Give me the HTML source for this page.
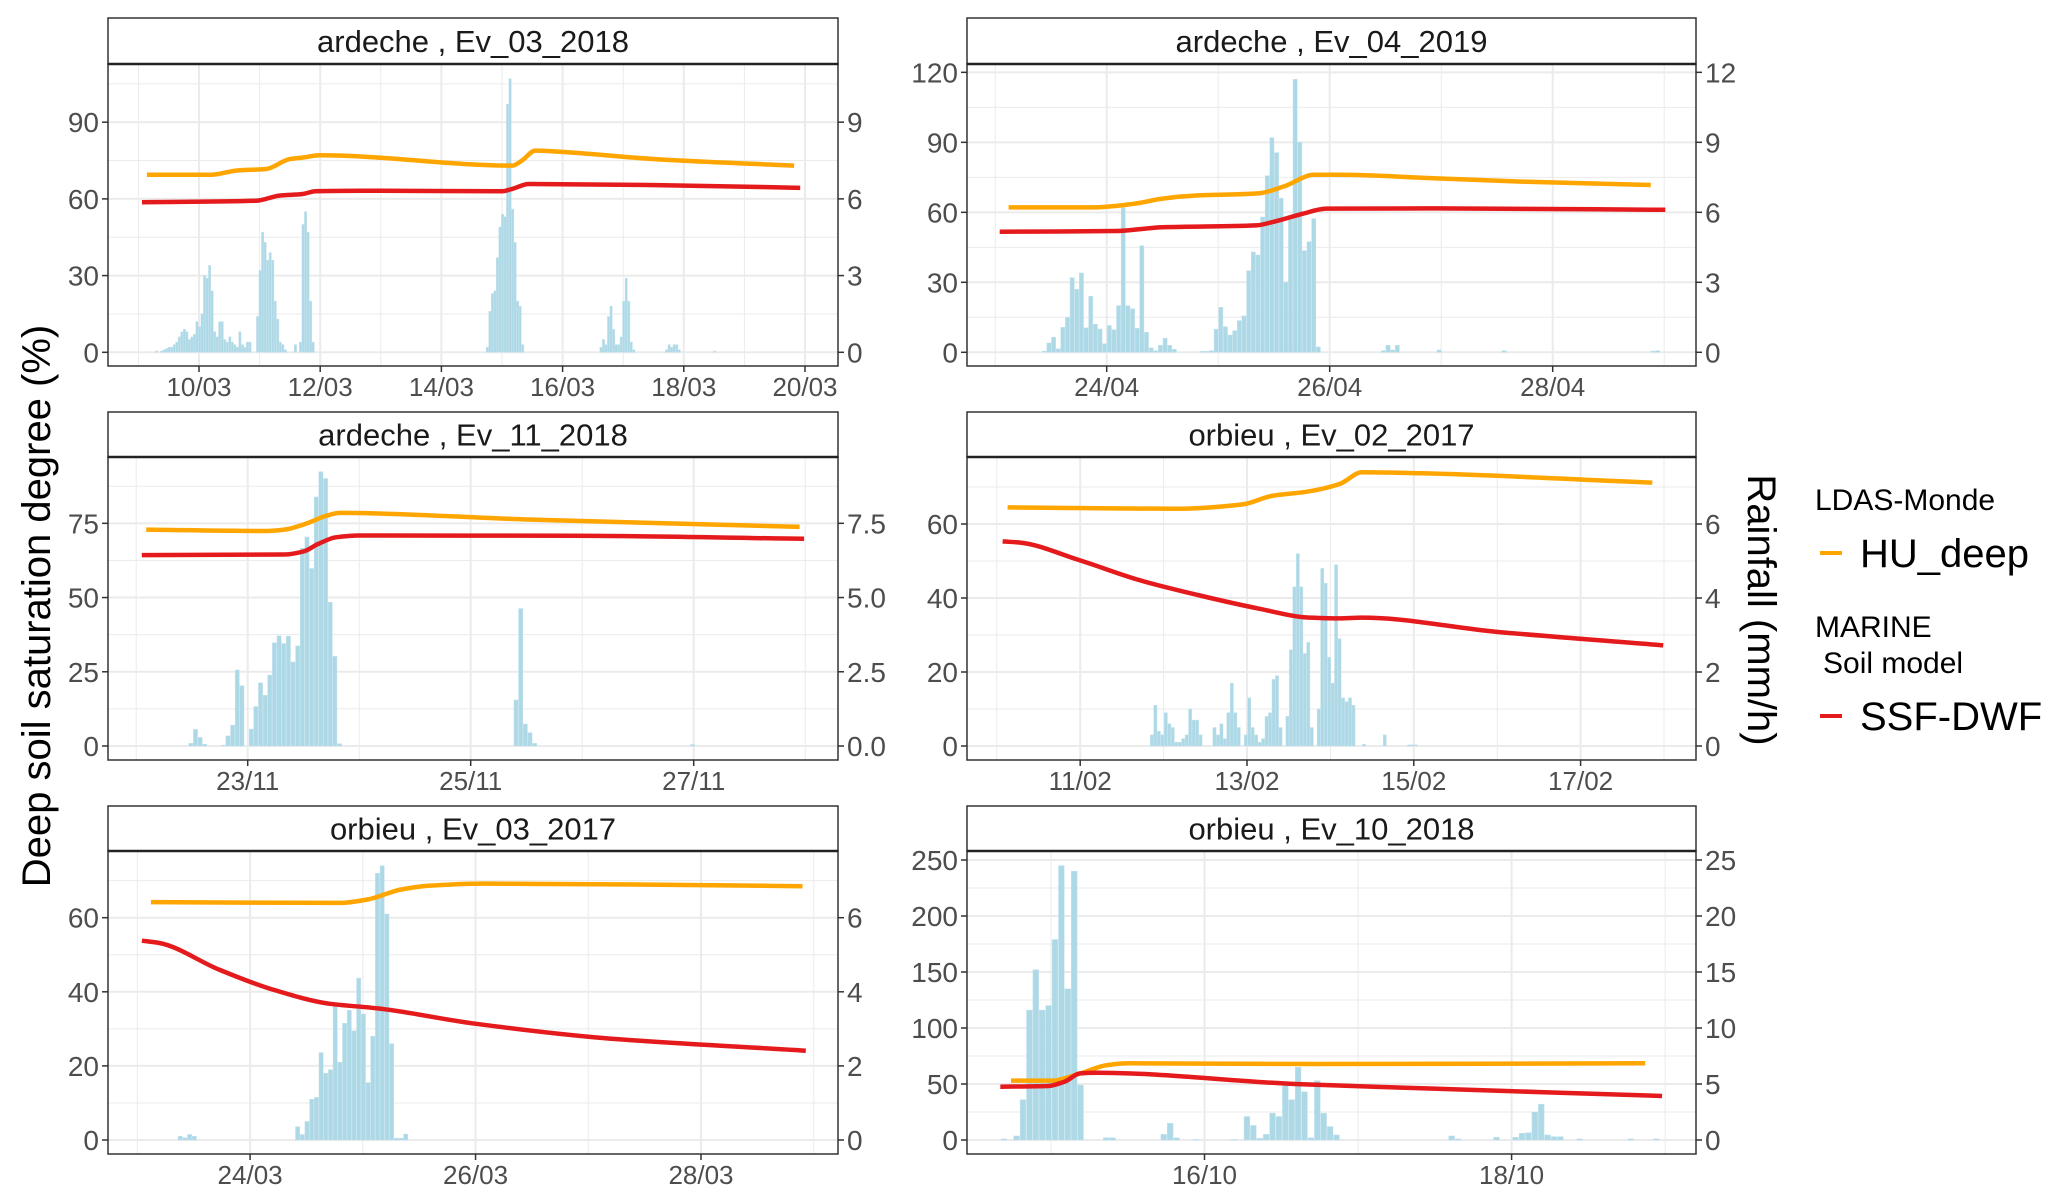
<!DOCTYPE html>
<html><head><meta charset="utf-8"><style>
body{margin:0;background:#fff;}
svg{display:block;font-family:"Liberation Sans",Arial,sans-serif;}
</style></head><body>
<svg id="chart" width="2067" height="1201" viewBox="0 0 2067 1201" xmlns="http://www.w3.org/2000/svg">
<text x="0" y="0" transform="translate(50,606) rotate(-90)" text-anchor="middle" font-size="40" fill="#000">Deep soil saturation degree (%)</text>
<text x="0" y="0" transform="translate(1748,610) rotate(90)" text-anchor="middle" font-size="40" fill="#000">Rainfall (mm/h)</text>
<g>
<text x="1815" y="510" font-size="30" fill="#000">LDAS-Monde</text>
<line x1="1820" y1="553" x2="1842" y2="553" stroke="#FFA500" stroke-width="4"/>
<text x="1860" y="567" font-size="40" fill="#000">HU_deep</text>
<text x="1815" y="637" font-size="30" fill="#000">MARINE</text>
<text x="1823" y="673" font-size="30" fill="#000">Soil model</text>
<line x1="1820" y1="716" x2="1842" y2="716" stroke="#E41A1C" stroke-width="4"/>
<text x="1860" y="730" font-size="40" fill="#000">SSF-DWF</text>
</g>
</svg>
<script>
// ---- Panel 1: ardeche Ev_03_2018 ----
const p1Title = "ardeche , Ev_03_2018";
const p1XTicks = [10,12,14,16,18,20];
const p1XLabels = ["10/03","12/03","14/03","16/03","18/03","20/03"];
const p1YTicks = [0,30,60,90];
const p1Y2Labels = ["0","3","6","9"];
const p1HuT = [9.14,10.19,10.63,11.11,11.49,11.76,11.98,15.17,15.33,15.55,15.92,17.55,19.82];
const p1HuV = [69.4,69.4,71.1,71.7,75.5,76.3,77.1,73.0,75.0,78.9,78.5,75.5,73.0];
const p1SsfT = [9.06,10.95,11.33,11.71,11.92,12.68,15.0,15.17,15.44,17.55,19.92];
const p1SsfV = [58.7,59.3,61.3,61.9,63.0,63.2,63.0,63.9,65.8,65.4,64.3];
const p1RainStart = 9.3;
const p1Rain = [0.05,0,0.05,0.1,0.15,0.2,0.2,0.3,0.4,0.6,0.8,0.9,0.8,0.5,0.6,0.7,1.2,1.0,1.5,3.0,2.9,3.4,2.4,0.8,0.6,1.2,1.2,0.5,0.4,0.6,0.4,0.3,0.2,0.8,0.3,0.2,0.4,0.4,0,0,
1.4,3.2,4.7,4.3,3.6,3.9,3.6,2.0,1.3,0.4,0.3,0.1,0,0,0,0.3,0,0.4,5.0,5.5,4.7,2.0,0.4,
0,0,0,0,0,0,0,0,0,0,0,0,0,0,0,0,0,0,0,0,0,0,0,0,0,0,0,0,0,0,0,0,0,0,0,0,0,0,0,0,0,0,0,0,0,0,0,0,0,0,0,0,0,0,0,0,0,0,0,0,0,0,0,0,0,0,0,0,
0.2,1.6,2.3,2.4,3.7,4.9,5.4,5.3,9.7,10.7,5.6,4.3,2.0,1.8,0.3,
0,0,0,0,0,0,0,0,0,0,0,0,0,0,0,0,0,0,0,0,0,0,0,0,0,0,0,0,0,0,
0.2,0.5,0.3,1.4,1.8,0.9,0.3,0.3,0.6,2.0,2.9,2.0,0.4,0.1,
0,0,0,0,0,0,0,0,0,0,0,0,0.1,0.3,0.2,0.3,0.3,0.1,0,0,0,0,0,0,0,0,0,0,0,0,0,0.05];

// ---- Panel 2: ardeche Ev_04_2019 ----
const p2Title = "ardeche , Ev_04_2019";
const p2XTicks = [24,26,28];
const p2XLabels = ["24/04","26/04","28/04"];
const p2YTicks = [0,30,60,90,120];
const p2Y2Labels = ["0","3","6","9","12"];
const p2HuT = [23.12,23.87,24.25,24.5,24.84,25.36,25.59,25.86,26.09,26.93,27.77,28.88];
const p2HuV = [62.1,62.1,63.7,65.9,67.3,68.1,71.1,76.1,76.1,74.6,73.1,71.7];
const p2SsfT = [23.04,24.08,24.5,25.34,25.51,25.76,25.97,26.93,29.01];
const p2SsfV = [51.7,52.0,53.6,54.4,56.1,59.4,61.6,61.7,61.1];
const p2RainStart = 23.44;
const p2Rain = [0.05,0.4,0.65,0.15,1.07,1.5,3.2,2.7,3.4,1.05,2.4,1.2,1.0,0.37,1.15,0.97,2.0,6.2,2.0,1.87,1.03,4.57,0.86,0.19,0.07,0.3,0.6,0.3,0.13,0,0,0,0,0,0.04,0.04,0.07,0.99,1.93,1.1,0.74,0.93,1.36,1.56,3.5,4.3,4.17,5.8,7.57,9.2,8.56,6.6,3.0,5.7,11.7,9.0,4.36,4.74,5.73,0.23,
0,0,0,0,0,0,0,0,0,0,0,0,0,0.07,0.3,0.1,0.3,0,0,0,0,0,0,0,0,0.1,0,0,0,0,0,0,0,0,0,0,0,0,0,0.07,0,0,0,0,0,0,0,0,0,0,0,0,0,0,0,0,0,0,0,0,0,0,0,0,0,0,0,0,0,0,0,0.05,0.07];

// ---- Panel 3: ardeche Ev_11_2018 ----
const p3Title = "ardeche , Ev_11_2018";
const p3XTicks = [23,25,27];
const p3XLabels = ["23/11","25/11","27/11"];
const p3YTicks = [0,25,50,75];
const p3Y2Labels = ["0.0","2.5","5.0","7.5"];
const p3HuT = [22.09,23.17,23.33,23.54,23.71,23.83,25.51,27.95];
const p3HuV = [72.9,72.4,72.9,75.1,77.6,78.5,76.3,73.8];
const p3SsfT = [22.05,23.33,23.5,23.63,23.79,24.0,25.92,27.99];
const p3SsfV = [64.3,64.5,65.5,68.0,70.3,70.9,70.8,69.8];
const p3RainStart = 22.49;
const p3Rain = [0.09,0.56,0.29,0.06,0,0,0,0.03,0.34,0.70,2.56,2.03,0,0.57,1.33,2.13,1.71,2.39,3.48,3.71,3.45,3.7,2.83,3.37,6.66,7.04,5.98,8.39,9.24,9.01,4.84,3.02,0.08,
0,0,0,0,0,0,0,0,0,0,0,0,0,0,0,0,0,0,0,0,0,0,0,0,0,0,0,0,0,0,0,0,0,0,0,0,0,
1.55,4.63,0.74,0.45,0.09,0,0,0,0,0,0,0,0,0,0,0,0,0,0,0,0,0,0,0,0,0,0,0,0,0,0,0,0,0,0,0,0,0,0.05];

// ---- Panel 4: orbieu Ev_02_2017 ----
const p4Title = "orbieu , Ev_02_2017";
const p4XTicks = [11,13,15,17];
const p4XLabels = ["11/02","13/02","15/02","17/02"];
const p4YTicks = [0,20,40,60];
const p4Y2Labels = ["0","2","4","6"];
const p4HuT = [10.13,12.14,12.95,13.30,13.71,14.11,14.38,15.09,17.86];
const p4HuV = [64.5,64.1,65.3,67.6,68.7,70.8,74.0,73.7,71.2];
const p4SsfT = [10.07,10.27,10.98,11.7,12.41,13.13,13.75,14.11,14.38,15.98,17.99];
const p4SsfV = [55.3,55.0,50.3,44.9,40.8,37.2,34.7,34.5,34.7,30.9,27.2];
const p4RainStart = 11.86;
const p4Rain = [0.3,1.1,0.4,0.3,0.9,0.6,0.5,0.1,0.1,0.2,0.3,1.0,0.7,0.7,0.3,0,0,0,0.5,0.3,0.6,0.2,0.9,1.7,0.9,0.5,0,0.3,1.3,0.5,0.3,0.1,0.2,0.8,0.9,1.8,1.9,0.5,0,0.8,2.6,4.3,5.2,4.3,2.5,2.8,0.5,0,1.0,4.8,4.4,2.4,1.7,4.9,2.9,1.3,1.2,1.3,1.1,0,0,0.05,0,0,0,0,0,0.3,0,0,0,0,0,0,0.03,0.03,0.03];

// ---- Panel 5: orbieu Ev_03_2017 ----
const p5Title = "orbieu , Ev_03_2017";
const p5XTicks = [24,26,28];
const p5XLabels = ["24/03","26/03","28/03"];
const p5YTicks = [0,20,40,60];
const p5Y2Labels = ["0","2","4","6"];
const p5HuT = [23.12,24.8,25.04,25.34,25.58,26.07,28.9];
const p5HuV = [64.2,64.0,64.9,67.6,68.6,69.2,68.5];
const p5SsfT = [23.04,23.19,23.73,24.21,24.70,25.14,25.97,27.14,28.93];
const p5SsfV = [53.8,53.2,45.9,40.5,36.8,35.5,31.5,27.5,24.1];
const p5RainStart = 23.38;
const p5Rain = [0.1,0.06,0.15,0.1,0,0,0,0,0,0,0,0,0,0,0,0,0,0,0,0,0,0,0,0,0,
0.36,0.15,0.5,1.1,1.15,2.36,1.8,1.9,3.6,2.1,3.15,3.5,2.95,4.37,3.4,1.55,2.8,7.2,7.4,6.1,2.6,0.05,0.05,0.16];

// ---- Panel 6: orbieu Ev_10_2018 ----
const p6Title = "orbieu , Ev_10_2018";
const p6XTicks = [16,18];
const p6XLabels = ["16/10","18/10"];
const p6YTicks = [0,50,100,150,200,250];
const p6Y2Labels = ["0","5","10","15","20","25"];
const p6HuT = [14.74,15.01,15.19,15.37,15.51,16.73,18.87];
const p6HuV = [53,53,59.5,67,68.5,67.9,68.5];
const p6SsfT = [14.67,14.98,15.09,15.19,15.3,16.59,17.44,18.98];
const p6SsfV = [47.6,48.2,52.1,59.5,60.1,50.0,46.1,39.3];
const p6RainStart = 14.693;
const p6Rain = [0.1,0,0.36,3.6,11.6,15.2,11.6,12.0,17.9,24.5,13.5,24.0,4.9,0,0,0,0.2,0.2,0,0,0,0,0,0,0,0.5,1.5,0.2,0,0,0.05,0,0,0,0,0,0.05,0,
2.1,1.3,0.15,0.5,2.4,2.1,4.9,3.6,6.5,4.3,0.2,5.3,2.4,1.2,0.45,
0,0,0,0,0,0,0,0,0,0,0,0,0,0,0,0,0,0.36,0.1,0,0,0,0,0,0.24,0,0,0.24,0.6,0.65,2.5,3.2,0.45,0.3,0.3,0,0,0.1,0,0,0,0,0,0,0,0.1,0,0,0,0.1];

// ---- layout (not data) ----
const panels = [
 {id:"p1",title:p1Title,xt:p1XTicks,xl:p1XLabels,yt:p1YTicks,y2:p1Y2Labels,hT:p1HuT,hV:p1HuV,sT:p1SsfT,sV:p1SsfV,rs:p1RainStart,r:p1Rain,
  x0:108,x1:838,st:18,pt:64,pb:366,dA:10,pA:199,dB:20,pB:805,yZero:352.3,yK:2.557},
 {id:"p2",title:p2Title,xt:p2XTicks,xl:p2XLabels,yt:p2YTicks,y2:p2Y2Labels,hT:p2HuT,hV:p2HuV,sT:p2SsfT,sV:p2SsfV,rs:p2RainStart,r:p2Rain,
  x0:967,x1:1696,st:18,pt:64,pb:366,dA:24,pA:1106.7,dB:28,pB:1552.7,yZero:352.3,yK:2.333},
 {id:"p3",title:p3Title,xt:p3XTicks,xl:p3XLabels,yt:p3YTicks,y2:p3Y2Labels,hT:p3HuT,hV:p3HuV,sT:p3SsfT,sV:p3SsfV,rs:p3RainStart,r:p3Rain,
  x0:108,x1:838,st:412,pt:457,pb:760,dA:23,pA:247.7,dB:27,pB:693.7,yZero:746,yK:2.969},
 {id:"p4",title:p4Title,xt:p4XTicks,xl:p4XLabels,yt:p4YTicks,y2:p4Y2Labels,hT:p4HuT,hV:p4HuV,sT:p4SsfT,sV:p4SsfV,rs:p4RainStart,r:p4Rain,
  x0:967,x1:1696,st:412,pt:457,pb:760,dA:11,pA:1080.2,dB:17,pB:1580.6,yZero:746,yK:3.7},
 {id:"p5",title:p5Title,xt:p5XTicks,xl:p5XLabels,yt:p5YTicks,y2:p5Y2Labels,hT:p5HuT,hV:p5HuV,sT:p5SsfT,sV:p5SsfV,rs:p5RainStart,r:p5Rain,
  x0:108,x1:838,st:806,pt:851,pb:1154,dA:24,pA:250.1,dB:28,pB:701,yZero:1140,yK:3.705},
 {id:"p6",title:p6Title,xt:p6XTicks,xl:p6XLabels,yt:p6YTicks,y2:p6Y2Labels,hT:p6HuT,hV:p6HuV,sT:p6SsfT,sV:p6SsfV,rs:p6RainStart,r:p6Rain,
  x0:967,x1:1696,st:806,pt:851,pb:1154,dA:16,pA:1204.5,dB:18,pB:1511.6,yZero:1140,yK:1.12}
];
const NS="http://www.w3.org/2000/svg";
const svg=document.getElementById('chart');
function mk(tag,attrs,parent){const e=document.createElementNS(NS,tag);for(const k in attrs)e.setAttribute(k,attrs[k]);(parent||svg).appendChild(e);return e;}
// monotone cubic (Fritsch-Carlson) path
function smoothPath(pts){
  const n=pts.length;
  const dx=[],sl=[];
  for(let i=0;i<n-1;i++){dx.push(pts[i+1][0]-pts[i][0]);sl.push((pts[i+1][1]-pts[i][1])/dx[i]);}
  const m=new Array(n);
  m[0]=sl[0];m[n-1]=sl[n-2];
  for(let i=1;i<n-1;i++){
    if(sl[i-1]*sl[i]<=0) m[i]=0;
    else{const w1=2*dx[i]+dx[i-1],w2=dx[i]+2*dx[i-1];m[i]=(w1+w2)/(w1/sl[i-1]+w2/sl[i]);}
  }
  let d='M'+pts[0][0].toFixed(1)+','+pts[0][1].toFixed(1);
  for(let i=0;i<n-1;i++){
    const h=dx[i]/3;
    d+=' C'+(pts[i][0]+h).toFixed(1)+','+(pts[i][1]+m[i]*h).toFixed(1)+' '+(pts[i+1][0]-h).toFixed(1)+','+(pts[i+1][1]-m[i+1]*h).toFixed(1)+' '+pts[i+1][0].toFixed(1)+','+pts[i+1][1].toFixed(1);
  }
  return d;
}

panels.forEach(p=>{
  const g=mk('g',{});
  
  
  const xs=d=>p.pA+(d-p.dA)*(p.pB-p.pA)/(p.dB-p.dA);
  const ys=v=>p.yZero-v*p.yK;
  const pxDay=(p.pB-p.pA)/(p.dB-p.dA);
  const step=p.yt[1]-p.yt[0];
  for(let v=-step/2; ys(v)>p.pt; v+=step/2){
    const y=ys(v); if(y>p.pb-1) continue;
    const major=Math.abs(v/step-Math.round(v/step))<1e-6;
    const l=mk('line',{x1:p.x0,x2:p.x1,y1:y,y2:y,stroke:'#ebebeb','stroke-width':major?2:1},g);
    
    
  }
  const xstep=p.xt[1]-p.xt[0];
  for(let d=p.xt[0]-xstep*3; d<=p.xt[p.xt.length-1]+xstep*3; d+=xstep/2){
    const x=xs(d); if(x<=p.x0+1||x>=p.x1-1) continue;
    const major=Math.abs((d-p.xt[0])/xstep-Math.round((d-p.xt[0])/xstep))<1e-6;
    const l=mk('line',{x1:x,x2:x,y1:p.pt,y2:p.pb,stroke:'#ebebeb','stroke-width':major?2:1},g);
    
    
  }
  const bw=pxDay/24*0.9;
  p.r.forEach((v,i)=>{
    if(v<=0) return;
    const xc=xs(p.rs+i/24);
    const h=v*10*p.yK;
    const b=mk('rect',{x:xc-bw/2,y:ys(v*10),width:bw,height:h,fill:'#add8e6',stroke:'#c4e3ee','stroke-width':0.5},g);
    
    
  });
  const ptsH=p.hT.map((t,i)=>[xs(t),ys(p.hV[i])]);
  const lh=mk('path',{d:smoothPath(ptsH),fill:'none',stroke:'#FFA500','stroke-width':4.5,'stroke-linejoin':'round'},g);
  
  
  const ptsS=p.sT.map((t,i)=>[xs(t),ys(p.sV[i])]);
  const ls=mk('path',{d:smoothPath(ptsS),fill:'none',stroke:'#E41A1C','stroke-width':4.5,'stroke-linejoin':'round'},g);
  
  
  const fr=mk('rect',{x:p.x0,y:p.pt,width:p.x1-p.x0,height:p.pb-p.pt,fill:'none',stroke:'#333','stroke-width':1.5},g);
  
  
  const sr=mk('rect',{x:p.x0,y:p.st,width:p.x1-p.x0,height:p.pt-p.st,fill:'#fff',stroke:'#333','stroke-width':1.5},g);
  
  
  const sl=mk('line',{x1:p.x0,x2:p.x1,y1:p.pt,y2:p.pt,stroke:'#222','stroke-width':2.5},g);
  
  
  const st=mk('text',{x:(p.x0+p.x1)/2,y:(p.st+p.pt)/2+11,'text-anchor':'middle','font-size':31,fill:'#1a1a1a'},g);
  st.textContent=p.title;
  
  
  p.yt.forEach((v,i)=>{
    const y=ys(v);
    const t1=mk('line',{x1:p.x0-6,x2:p.x0,y1:y,y2:y,stroke:'#333','stroke-width':1.5},g);
    
    
    const t2=mk('line',{x1:p.x1,x2:p.x1+6,y1:y,y2:y,stroke:'#333','stroke-width':1.5},g);
    
    
    const a=mk('text',{x:p.x0-9,y:y+10,'text-anchor':'end','font-size':28,fill:'#4d4d4d'},g);
    a.textContent=String(v);
    
    
    const b=mk('text',{x:p.x1+9,y:y+10,'text-anchor':'start','font-size':28,fill:'#4d4d4d'},g);
    b.textContent=p.y2[i];
    
    
  });
  p.xt.forEach((d,i)=>{
    const x=xs(d);
    const t=mk('line',{x1:x,x2:x,y1:p.pb,y2:p.pb+6,stroke:'#333','stroke-width':1.5},g);
    
    
    const a=mk('text',{x:x,y:p.pb+30,'text-anchor':'middle','font-size':26,fill:'#4d4d4d'},g);
    a.textContent=p.xl[i];
    
    
  });
});
</script>
</body></html>
